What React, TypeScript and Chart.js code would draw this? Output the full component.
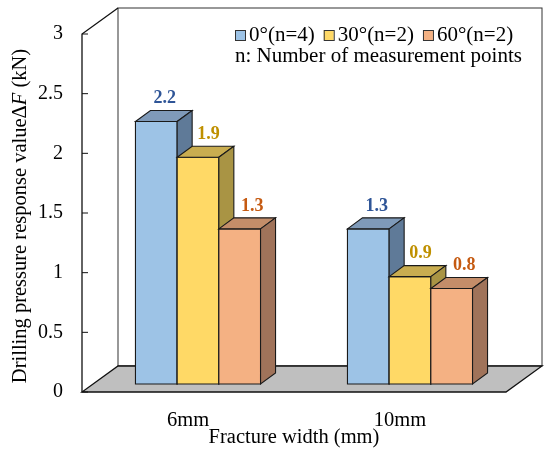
import React, { useEffect, useRef } from "react";
import { Chart, registerables } from "chart.js";

Chart.register(...registerables);

const categories = ["6mm", "10mm"];
const seriesNames = ["0°(n=4)", "30°(n=2)", "60°(n=2)"];
const values0 = [2.2, 1.3];
const values30 = [1.9, 0.9];
const values60 = [1.3, 0.8];
const yTicks = [0, 0.5, 1, 1.5, 2, 2.5, 3];

const FONT = "'Liberation Serif', 'Times New Roman', serif";

// front / top / side face colours per series
const faceColors = ["#9DC3E6", "#FFD966", "#F4B183"];
const topColors = ["#7F9AB9", "#C9AD50", "#C48D69"];
const sideColors = ["#5F7A98", "#A99444", "#A0735A"];
const labelColors = ["#2F5597", "#BF9000", "#C55A11"];

const WALL = { dx: 36, dy: -26 }; // depth of the whole box
const BAR_SHIFT = { dx: 10, dy: -8 }; // where the bar fronts sit inside the box
const BAR_DEPTH = { dx: 15, dy: -11 };

const poly = (ctx: CanvasRenderingContext2D, pts: number[][], fill: string) => {
  ctx.beginPath();
  ctx.moveTo(pts[0][0], pts[0][1]);
  pts.slice(1).forEach((p) => ctx.lineTo(p[0], p[1]));
  ctx.closePath();
  ctx.fillStyle = fill;
  ctx.fill();
  ctx.stroke();
};

const frame3d = {
  id: "frame3d",
  beforeDatasetsDraw(chart: any) {
    const { ctx, chartArea } = chart;
    const L = chartArea.left;
    const R = chartArea.right;
    const T = chartArea.top;
    const B = chart.scales.y.getPixelForValue(0);
    ctx.save();
    // back wall
    ctx.strokeStyle = "#333";
    ctx.lineWidth = 1;
    ctx.strokeRect(L + WALL.dx, T + WALL.dy, R - L, B - T);
    // floor
    ctx.strokeStyle = "#111";
    ctx.lineWidth = 1.3;
    poly(
      ctx,
      [
        [L, B],
        [R, B],
        [R + WALL.dx, B + WALL.dy],
        [L + WALL.dx, B + WALL.dy],
      ],
      "#BFBFBF"
    );
    // left wall edges + axis
    ctx.beginPath();
    ctx.moveTo(L + WALL.dx, T + WALL.dy);
    ctx.lineTo(L, T);
    ctx.lineTo(L, B);
    ctx.stroke();
    // tick marks
    ctx.lineWidth = 1;
    yTicks.forEach((v) => {
      const py = chart.scales.y.getPixelForValue(v);
      ctx.beginPath();
      ctx.moveTo(L, py);
      ctx.lineTo(L + 6, py);
      ctx.stroke();
    });
    ctx.restore();
  },
  afterDatasetsDraw(chart: any) {
    const { ctx } = chart;
    ctx.save();
    ctx.translate(BAR_SHIFT.dx, BAR_SHIFT.dy);
    ctx.strokeStyle = "#1a1a1a";
    ctx.lineWidth = 1.1;
    // bars left to right so each front hides the previous side face
    chart.data.datasets.forEach((ds: any, i: number) => {
      chart.getDatasetMeta(i).data.forEach((el: any) => {
        const { x, y, base, width } = el.getProps(["x", "y", "base", "width"], true);
        const l = x - width / 2;
        const r = x + width / 2;
        const { dx, dy } = BAR_DEPTH;
        poly(ctx, [[l, y], [r, y], [r, base], [l, base]], faceColors[i]);
        poly(ctx, [[l, y], [r, y], [r + dx, y + dy], [l + dx, y + dy]], topColors[i]);
        poly(ctx, [[r, y], [r + dx, y + dy], [r + dx, base + dy], [r, base]], sideColors[i]);
      });
    });
    // value labels
    ctx.font = `bold 18px ${FONT}`;
    ctx.textAlign = "center";
    ctx.textBaseline = "middle";
    chart.data.datasets.forEach((ds: any, i: number) => {
      chart.getDatasetMeta(i).data.forEach((el: any, j: number) => {
        const { x, y } = el.getProps(["x", "y"], true);
        ctx.fillStyle = labelColors[i];
        ctx.fillText(ds.data[j].toFixed(1), x + BAR_DEPTH.dx / 2 + 1 + i * 2, y + BAR_DEPTH.dy - 12);
      });
    });
    ctx.restore();
  },
  afterDraw(chart: any) {
    const { ctx } = chart;
    ctx.save();
    // legend
    ctx.font = `21px ${FONT}`;
    ctx.textBaseline = "middle";
    ctx.textAlign = "left";
    let lx = 235;
    const ly = 35;
    chart.data.datasets.forEach((ds: any, i: number) => {
      ctx.fillStyle = faceColors[i];
      ctx.fillRect(lx, ly - 5, 10, 10);
      ctx.strokeStyle = "#333";
      ctx.lineWidth = 1;
      ctx.strokeRect(lx + 0.5, ly - 4.5, 10, 10);
      ctx.fillStyle = "#000";
      ctx.fillText(ds.label, lx + 14, ly);
      lx += 14 + ctx.measureText(ds.label).width + 9;
    });
    ctx.fillText("n: Number of measurement points", 235, 56);

    // y axis title with italic F
    const parts = [
      { t: "Drilling pressure response value\u0394", f: `20.5px ${FONT}` },
      { t: "F", f: `italic 20.5px ${FONT}` },
      { t: " (kN)", f: `20.5px ${FONT}` },
    ];
    let total = 0;
    parts.forEach((p) => {
      ctx.font = p.f;
      total += ctx.measureText(p.t).width;
    });
    ctx.translate(21, 216);
    ctx.rotate(-Math.PI / 2);
    let px = -total / 2;
    parts.forEach((p) => {
      ctx.font = p.f;
      ctx.fillText(p.t, px, 0);
      px += ctx.measureText(p.t).width;
    });
    ctx.restore();
  },
};

const App: React.FC = () => {
  const chartRef = useRef<HTMLCanvasElement>(null);

  useEffect(() => {
    document.body.style.margin = "0";
    if (!chartRef.current) return;
    const ctx = chartRef.current.getContext("2d");
    if (!ctx) return;
    const myChart = new Chart(ctx, {
      type: "bar",
      data: {
        labels: categories,
        datasets: [values0, values30, values60].map((vals, i) => ({
          label: seriesNames[i],
          data: vals,
          // fronts are painted by the plugin together with the 3D faces
          backgroundColor: "rgba(0,0,0,0)",
          borderWidth: 0,
          categoryPercentage: 0.59,
          barPercentage: 1,
        })),
      },
      options: {
        animation: false,
        responsive: true,
        maintainAspectRatio: false,
        layout: { padding: { top: 34, right: 44, left: 0, bottom: 0 } },
        plugins: {
          legend: { display: false },
          tooltip: { enabled: false },
        },
        scales: {
          x: {
            grid: { display: false, drawTicks: false },
            border: { display: false },
            ticks: { color: "#000", font: { family: FONT, size: 20.5 }, padding: 16 },
            title: {
              display: true,
              text: "Fracture width (mm)",
              color: "#000",
              font: { family: FONT, size: 20.5 },
              padding: { top: 0, bottom: 6 },
            },
            afterFit: (s: any) => {
              s.height = 64;
            },
          },
          y: {
            min: 0,
            max: 3,
            grid: { display: false, drawTicks: false },
            border: { display: false },
            ticks: {
              stepSize: 0.5,
              color: "#000",
              padding: 19,
              font: { family: FONT, size: 20 },
              callback: (v: any) => `${v}`,
            },
            afterFit: (s: any) => {
              s.width = 82;
            },
          },
        },
      },
      plugins: [frame3d],
    });
    return () => {
      myChart.destroy();
    };
  }, []);

  return (
    <div style={{ width: 550, height: 456, position: "relative" }}>
      <canvas ref={chartRef} />
    </div>
  );
};

export default App;
